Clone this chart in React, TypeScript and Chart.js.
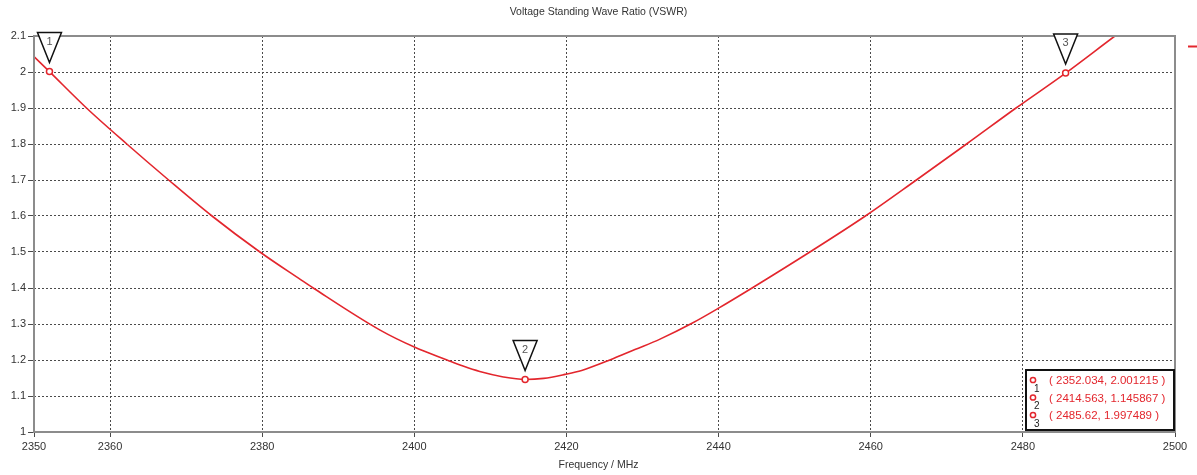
import React, { useEffect, useRef } from 'react';
import { Chart, registerables } from 'chart.js';

Chart.register(...registerables);

// ---- data ----
const frequencyMHz = [
  2350, 2352.034, 2356.9, 2362.2, 2367.7, 2373.4, 2379.7, 2385.0, 2386.7,
  2395.5, 2400, 2404.3, 2406.4, 2408.6, 2411.7, 2414.563, 2417, 2419.8,
  2422, 2425.7, 2429, 2432.3, 2436.5, 2440, 2444.4, 2452, 2459.3, 2466,
  2472.6, 2479.1, 2485.62, 2492.1, 2495,
];
const vswrValues = [
  2.043, 2.001, 1.9, 1.8, 1.7, 1.6, 1.5, 1.424, 1.4,
  1.283, 1.236, 1.2, 1.183, 1.168, 1.153, 1.146, 1.149, 1.16,
  1.171, 1.2, 1.229, 1.258, 1.302, 1.344, 1.4, 1.5, 1.6, 1.7,
  1.8, 1.9, 1.997, 2.1, 2.145,
];
const markerLabels = ['1', '2', '3'];
const markerFreq = [2352.034, 2414.563, 2485.62];
const markerVswr = [2.001215, 1.145867, 1.997489];
const xTickValues = [2350, 2360, 2380, 2400, 2420, 2440, 2460, 2480, 2500];
const chartTitle = 'Voltage Standing Wave Ratio (VSWR)';
const xAxisTitle = 'Frequency / MHz';

const RED = '#e3262d';
const FONT = '"Liberation Sans", Arial, sans-serif';
const GRID = '#4a4a4a';
const FRAME = '#8c8c8c';

const overlayPlugin = {
  id: 'vswrOverlay',
  afterDraw(chart: any) {
    const { ctx, chartArea: a, scales } = chart;
    const xs = scales.x;
    const ys = scales.y;
    ctx.save();

    // title and axis title
    ctx.fillStyle = '#333';
    ctx.font = `10.5px ${FONT}`;
    ctx.textAlign = 'center';
    ctx.textBaseline = 'middle';
    ctx.fillText(chartTitle, chart.width / 2, 12);
    ctx.font = `10.5px ${FONT}`;
    ctx.fillText(xAxisTitle, chart.width / 2, 465);

    // plot frame
    ctx.strokeStyle = FRAME;
    ctx.lineWidth = 2;
    ctx.setLineDash([]);
    ctx.strokeRect(a.left, a.top, a.right - a.left, a.bottom - a.top);

    // series legend stub (top right)
    ctx.strokeStyle = RED;
    ctx.lineWidth = 2;
    ctx.beginPath();
    ctx.moveTo(a.right + 13, a.top + 10.5);
    ctx.lineTo(chart.width, a.top + 10.5);
    ctx.stroke();

    // marker triangles
    markerFreq.forEach((f, i) => {
      const px = xs.getPixelForValue(f);
      const py = ys.getPixelForValue(markerVswr[i]);
      const apex = py - 9;
      const top = apex - 30;
      ctx.beginPath();
      ctx.moveTo(px - 12, top);
      ctx.lineTo(px + 12, top);
      ctx.lineTo(px, apex);
      ctx.closePath();
      ctx.fillStyle = '#fff';
      ctx.fill();
      ctx.strokeStyle = '#111';
      ctx.lineWidth = 1.5;
      ctx.stroke();
      ctx.fillStyle = '#555';
      ctx.font = `11px ${FONT}`;
      ctx.textAlign = 'center';
      ctx.textBaseline = 'middle';
      ctx.fillText(markerLabels[i], px, top + 9);
    });

    // marker readout box (bottom right)
    const bw = 148;
    const bh = 60;
    const bx = a.right - bw - 1;
    const by = a.bottom - bh - 2;
    ctx.fillStyle = '#fff';
    ctx.fillRect(bx, by, bw, bh);
    ctx.strokeStyle = '#111';
    ctx.lineWidth = 2;
    ctx.strokeRect(bx, by, bw, bh);
    markerFreq.forEach((f, i) => {
      const rowY = by + 11 + i * 17.5;
      ctx.beginPath();
      ctx.arc(bx + 7, rowY - 1, 2.6, 0, Math.PI * 2);
      ctx.strokeStyle = RED;
      ctx.lineWidth = 1.5;
      ctx.stroke();
      ctx.fillStyle = '#222';
      ctx.font = `10px ${FONT}`;
      ctx.textAlign = 'left';
      ctx.textBaseline = 'middle';
      ctx.fillText(markerLabels[i], bx + 8, rowY + 8);
      ctx.fillStyle = RED;
      ctx.font = `11.5px ${FONT}`;
      ctx.fillText(`( ${f}, ${markerVswr[i]} )`, bx + 23, rowY);
    });

    ctx.restore();
  },
};

export default function App() {
  const canvasRef = useRef<HTMLCanvasElement | null>(null);

  useEffect(() => {
    document.body.style.margin = '0';
    const canvas = canvasRef.current;
    if (!canvas) return;
    const chart = new Chart(canvas, {
      type: 'line',
      data: {
        datasets: [
          {
            label: 'Markers',
            data: markerFreq.map((f, i) => ({ x: f, y: markerVswr[i] })),
            showLine: false,
            pointRadius: 3,
            pointBorderWidth: 1.5,
            pointBorderColor: RED,
            pointBackgroundColor: '#fff',
            order: 0,
          },
          {
            label: 'VSWR',
            data: frequencyMHz.map((f, i) => ({ x: f, y: vswrValues[i] })),
            borderColor: RED,
            borderWidth: 1.6,
            pointRadius: 0,
            cubicInterpolationMode: 'monotone',
            fill: false,
            order: 1,
          },
        ],
      },
      options: {
        responsive: false,
        maintainAspectRatio: false,
        animation: false,
        events: [],
        layout: { padding: { top: 36, right: 22, left: 0, bottom: 0 } },
        plugins: {
          legend: { display: false },
          tooltip: { enabled: false },
          title: { display: false },
        },
        scales: {
          x: {
            type: 'linear',
            min: 2350,
            max: 2500,
            afterBuildTicks: (scale: any) => {
              scale.ticks = xTickValues.map((v) => ({ value: v }));
            },
            afterFit: (scale: any) => {
              scale.height = 43;
            },
            ticks: {
              autoSkip: false,
              maxRotation: 0,
              padding: 3,
              color: '#333',
              font: { family: FONT, size: 11 },
              callback: (v: any) => String(v),
            },
            grid: {
              color: GRID,
              lineWidth: 1,
              tickLength: 5,
              borderDash: [2, 2],
              tickBorderDash: [],
            } as any,
            border: { display: false, dash: [2, 2] } as any,
            title: { display: false },
          },
          y: {
            type: 'linear',
            min: 1,
            max: 2.1,
            afterFit: (scale: any) => {
              scale.width = 34;
            },
            ticks: {
              stepSize: 0.1,
              padding: 2,
              color: '#333',
              font: { family: FONT, size: 11 },
              callback: (v: any) => String(parseFloat(Number(v).toFixed(1))),
            },
            grid: {
              color: GRID,
              lineWidth: 1,
              tickLength: 6,
              borderDash: [2, 2],
              tickBorderDash: [],
            } as any,
            border: { display: false, dash: [2, 2] } as any,
          },
        },
      },
      plugins: [overlayPlugin],
    } as any);
    return () => chart.destroy();
  }, []);

  return (
    <div style={{ width: 1197, height: 475 }}>
      <canvas ref={canvasRef} width={1197} height={475} style={{ display: 'block' }} />
    </div>
  );
}
